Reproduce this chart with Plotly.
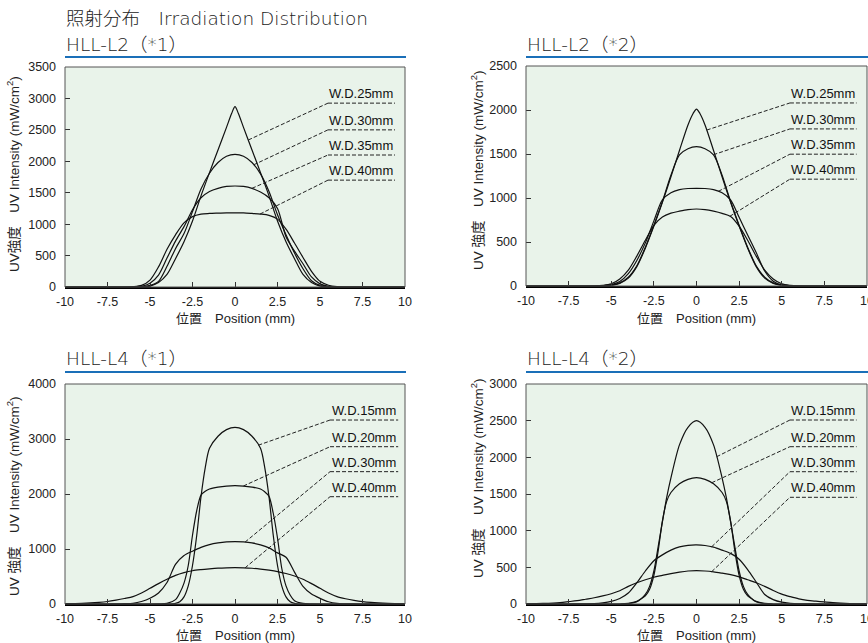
import numpy as np
import plotly.graph_objects as go

# ---------------- data ----------------
TICK_X = [-10, -7.5, -5, -2.5, 0, 2.5, 5, 7.5, 10]
TICK_X_TEXT = ["-10", "-7.5", "-5", "-2.5", "0", "2.5", "5", "7.5", "10"]

# HLL-L2 (*1)
L2A_X = [-10, -6.5, -6, -5.5, -5, -4.5, -4, -3.5, -3, -2.5, -2, -1.5, -1, -0.5, 0,
         0.5, 1, 1.5, 2, 2.5, 3, 3.5, 4, 4.5, 5, 5.5, 6, 6.5, 10]
L2A_PEAK_X = [-10, -6, -5.5, -5, -4.5, -4, -3.5, -3, -2.5, -2, -1.5, -1, -0.5, -0.2, 0,
              0.2, 0.5, 1, 1.5, 2, 2.5, 3, 3.5, 4, 4.5, 5, 5.5, 6, 10]
L2A_WD25 = [0, 0, 3, 15, 70, 200, 450, 720, 1050, 1450, 1820, 2180, 2540, 2760, 2870,
            2760, 2540, 2180, 1820, 1450, 1050, 720, 450, 200, 70, 15, 3, 0, 0]
L2A_WD30 = [0, 0, 0, 3, 25, 90, 330, 610, 850, 1200, 1560, 1810, 1980, 2080, 2110,
            2080, 1980, 1800, 1520, 1150, 830, 540, 290, 100, 25, 3, 0, 0, 0]
L2A_WD35 = [0, 0, 0, 10, 60, 190, 460, 730, 960, 1230, 1420, 1520, 1570, 1600, 1607,
            1600, 1570, 1510, 1420, 1250, 800, 570, 370, 160, 50, 10, 0, 0, 0]
L2A_WD40 = [0, 0, 5, 25, 110, 320, 600, 830, 1020, 1120, 1160, 1170, 1175, 1180, 1180,
            1178, 1170, 1160, 1140, 1080, 920, 700, 470, 250, 90, 28, 5, 0, 0]

# HLL-L2 (*2)
L2B_X = [-10, -6, -5.5, -5, -4.5, -4, -3.5, -3, -2.5, -2, -1.5, -1, -0.5, 0,
         0.5, 1, 1.5, 2, 2.5, 3, 3.5, 4, 4.5, 5, 5.5, 6, 10]
L2B_PEAK_X = [-10, -6, -5.5, -5, -4.5, -4, -3.5, -3, -2.5, -2, -1.5, -1, -0.5, -0.2, 0,
              0.2, 0.5, 1, 1.5, 2, 2.5, 3, 3.5, 4, 4.5, 5, 5.5, 6, 10]
L2B_WD25 = [0, 0, 2, 8, 30, 90, 220, 430, 680, 950, 1240, 1540, 1830, 1960, 2011,
            1960, 1830, 1540, 1240, 950, 680, 430, 220, 90, 30, 8, 2, 0, 0]
L2B_WD30 = [0, 0, 2, 10, 35, 100, 230, 440, 690, 960, 1260, 1490, 1560, 1583,
            1560, 1490, 1260, 960, 690, 440, 230, 100, 35, 10, 2, 0, 0]
L2B_WD35 = [0, 0, 3, 15, 50, 140, 290, 490, 740, 980, 1060, 1095, 1108, 1110,
            1108, 1095, 1060, 980, 780, 580, 380, 170, 55, 12, 3, 0, 0]
L2B_WD40 = [0, 2, 8, 25, 80, 180, 340, 520, 690, 785, 828, 850, 868, 875,
            868, 850, 825, 790, 680, 520, 340, 180, 80, 25, 8, 2, 0]

# HLL-L4 (*1)
L4_X = [-10, -9, -8, -7.5, -7, -6.5, -6, -5.5, -5, -4.5, -4, -3.5, -3, -2.5, -2, -1.5,
        -1, -0.5, 0, 0.5, 1, 1.5, 2, 2.5, 3, 3.5, 4, 4.5, 5, 5.5, 6, 6.5, 7, 7.5, 8, 9, 10]
L4_NARROW_X = [-10, -4.5, -4, -3.5, -3.25, -3, -2.75, -2.5, -2.25, -2, -1.75, -1.5, -1, -0.5, 0,
               0.5, 1, 1.5, 1.75, 2, 2.25, 2.5, 2.75, 3, 3.25, 3.5, 4, 4.5, 10]
L4A_WD15 = [0, 0, 2, 12, 40, 130, 330, 700, 1250, 1950, 2480, 2830, 3050, 3170, 3212,
            3170, 3050, 2830, 2480, 1950, 1250, 700, 330, 130, 40, 12, 2, 0, 0]
L4A_WD20 = [0, 2, 10, 80, 200, 380, 700, 1250, 1700, 1980, 2050, 2090, 2125, 2145, 2151,
            2145, 2125, 2090, 2040, 1960, 1650, 1200, 650, 330, 160, 60, 10, 2, 0]
L4A_WD30 = [0, 0, 0, 0, 2, 5, 12, 45, 103, 200, 390, 720, 880, 960, 1030, 1080,
            1110, 1128, 1133, 1128, 1110, 1075, 1020, 930, 850, 580, 320, 180, 103, 40,
            10, 4, 1, 0, 0, 0, 0]
L4A_WD40 = [5, 12, 30, 45, 70, 100, 135, 200, 285, 370, 450, 520, 570, 605, 625, 640,
            652, 658, 660, 658, 650, 635, 615, 590, 555, 510, 450, 370, 285, 200,
            135, 95, 65, 42, 28, 12, 4]

# HLL-L4 (*2)
L4B_WD15 = [0, 0, 5, 30, 70, 130, 240, 450, 780, 1120, 1450, 1720, 2170, 2410, 2500,
            2410, 2170, 1720, 1450, 1120, 780, 450, 240, 130, 70, 30, 5, 0, 0]
L4B_WD20 = [0, 0, 8, 35, 70, 110, 200, 390, 720, 1130, 1400, 1520, 1640, 1700, 1723,
            1700, 1640, 1520, 1400, 1130, 720, 390, 200, 110, 70, 35, 8, 0, 0]
L4B_WD30 = [0, 0, 0, 0, 1, 2, 5, 15, 35, 75, 150, 290, 450, 590, 670, 735,
            780, 800, 805, 798, 775, 735, 690, 610, 470, 300, 130, 60, 25, 10,
            3, 1, 0, 0, 0, 0, 0]
L4B_WD40 = [2, 8, 20, 32, 45, 65, 85, 110, 140, 180, 240, 290, 330, 365, 390, 415,
            435, 450, 455, 450, 438, 420, 400, 370, 330, 290, 240, 185, 135, 100,
            70, 50, 38, 28, 18, 7, 2]

PANEL_TITLES = ["HLL-L2（*1）", "HLL-L2（*2）", "HLL-L4（*1）", "HLL-L4（*2）"]
L2_LABELS = ["W.D.25mm", "W.D.30mm", "W.D.35mm", "W.D.40mm"]
L4_LABELS = ["W.D.15mm", "W.D.20mm", "W.D.30mm", "W.D.40mm"]
Y_MAX = [3500, 2500, 4000, 3000]
Y_DTICK = [500, 500, 1000, 500]

# ---------------- layout helpers ----------------
W, H = 868, 643
px = lambda v: v / W
py = lambda v: 1 - v / H

# pixel geometry of each panel: (left, right, top, bottom)
PANELS = [(65, 405, 67, 287), (526, 867, 66, 286), (65, 405, 384, 604), (526, 867, 384, 604)]
TITLE_Y = [45, 45, 358, 358]
RULE_Y = [57, 57, 372, 372]
XTITLE_Y = [318, 318, 635, 635]
YTITLE_X = [13, 477, 13, 477]
YTITLE_Y = [174, 170, 496, 478]
YTITLES = ["UV強度　UV Intensity (mW/cm<sup>2</sup>)", "UV 強度　UV Intensity (mW/cm<sup>2</sup>)",
           "UV 強度　UV Intensity (mW/cm<sup>2</sup>)", "UV 強度　UV Intensity (mW/cm<sup>2</sup>)"]

# label geometry (data coords): underline x range, underline heights, leader x on curve
LABEL_GEOM = [
    dict(x0=5.47, x1=9.41, ys=[2925, 2500, 2100, 1700], lead=[0.78, 1.1, 1.0, 1.47]),
    dict(x0=5.48, x1=9.39, ys=[2080, 1785, 1498, 1214], lead=[0.6, 0.99, 1.28, 1.96]),
    dict(x0=5.59, x1=9.6, ys=[3345, 2860, 2406, 1951], lead=[1.37, 0.49, 0.59, 0.59]),
    dict(x0=5.48, x1=9.39, ys=[2509, 2145, 1804, 1455], lead=[1.18, 0.89, 0.89, 0.89]),
]

SERIES = [
    [(L2A_PEAK_X, L2A_WD25), (L2A_X, L2A_WD30), (L2A_X, L2A_WD35), (L2A_X, L2A_WD40)],
    [(L2B_PEAK_X, L2B_WD25), (L2B_X, L2B_WD30), (L2B_X, L2B_WD35), (L2B_X, L2B_WD40)],
    [(L4_NARROW_X, L4A_WD15), (L4_NARROW_X, L4A_WD20), (L4_X, L4A_WD30), (L4_X, L4A_WD40)],
    [(L4_NARROW_X, L4B_WD15), (L4_NARROW_X, L4B_WD20), (L4_X, L4B_WD30), (L4_X, L4B_WD40)],
]
LABELS = [L2_LABELS, L2_LABELS, L4_LABELS, L4_LABELS]

LATIN = "Liberation Sans, Arial, Noto Sans CJK JP"
TITLE_FONT = "DejaVu Sans, Noto Sans CJK JP"
DASH = "4px,2px"

fig = go.Figure()
shapes = []
annotations = []

for i in range(4):
    n = "" if i == 0 else str(i + 1)
    xa, ya = "x" + n, "y" + n
    l, r, t, b = PANELS[i]
    for (xs, ys), name in zip(SERIES[i], LABELS[i]):
        fig.add_trace(go.Scatter(x=xs, y=ys, mode="lines", name=name, xaxis=xa, yaxis=ya,
                                 line=dict(color="#111111", width=1.2, shape="spline", smoothing=0.8),
                                 showlegend=False, hoverinfo="skip", cliponaxis=True))
    axkey = "xaxis" + n
    aykey = "yaxis" + n
    fig.update_layout(**{
        axkey: dict(domain=[px(l), px(r)], anchor=ya, range=[-10, 10], automargin=False,
                    tickvals=TICK_X, ticktext=TICK_X_TEXT, ticks="inside", ticklen=5,
                    tickcolor="#333", tickwidth=1, showline=True, linecolor="#000", linewidth=2,
                    showgrid=False, zeroline=False, ticklabelstandoff=2,
                    ticklabeloverflow="allow",
                    tickfont=dict(family=LATIN, size=12.5, color="#222")),
        aykey: dict(domain=[py(b), py(t)], anchor=xa, range=[0, Y_MAX[i]], dtick=Y_DTICK[i],
                    tick0=0, ticks="inside", ticklen=5, tickcolor="#333", tickwidth=1,
                    automargin=False,
                    showline=False, showgrid=False, zeroline=False, ticklabelstandoff=8,
                    tickfont=dict(family=LATIN, size=12.5, color="#222")),
    })
    # frame
    shapes.append(dict(type="rect", xref=xa + " domain", yref=ya + " domain", x0=0, x1=1, y0=0, y1=1,
                       line=dict(color="#555", width=1), layer="above"))
    # blue rule
    shapes.append(dict(type="line", xref="paper", yref="paper", x0=px(l), x1=px(min(r + 1, W)),
                       y0=py(RULE_Y[i]), y1=py(RULE_Y[i]), line=dict(color="#1a6fb8", width=2)))
    # panel title
    annotations.append(dict(text=PANEL_TITLES[i], xref="paper", yref="paper", x=px(l - 1), y=py(TITLE_Y[i]),
                            xanchor="left", yanchor="middle", showarrow=False,
                            font=dict(family=TITLE_FONT, size=18.5, color="#222", weight=300)))
    # axis titles
    annotations.append(dict(text="位置　Position (mm)", xref="paper", yref="paper",
                            x=px((l + r) / 2), y=py(XTITLE_Y[i]), xanchor="center", yanchor="middle",
                            showarrow=False, font=dict(family=LATIN, size=13, color="#222")))
    annotations.append(dict(text=YTITLES[i], xref="paper", yref="paper", x=px(YTITLE_X[i]),
                            y=py(YTITLE_Y[i]), xanchor="center", yanchor="middle", textangle=-90,
                            showarrow=False, font=dict(family=LATIN, size=13.5, color="#222")))
    # series labels with dashed leaders
    g = LABEL_GEOM[i]
    for (xs, ys), name, uy, lx in zip(SERIES[i], LABELS[i], g["ys"], g["lead"]):
        ly = float(np.interp(lx, xs, ys))
        shapes.append(dict(type="line", xref=xa, yref=ya, x0=g["x0"], x1=g["x1"], y0=uy, y1=uy,
                           line=dict(color="#222", width=1, dash=DASH)))
        shapes.append(dict(type="line", xref=xa, yref=ya, x0=lx, x1=g["x0"], y0=ly, y1=uy,
                           line=dict(color="#222", width=1, dash=DASH)))
        annotations.append(dict(text=name, xref=xa, yref=ya, x=(g["x0"] + g["x1"]) / 2, y=uy,
                                xanchor="center", yanchor="bottom", yshift=0, showarrow=False,
                                font=dict(family=LATIN, size=13, color="#111")))

annotations.append(dict(text="照射分布　Irradiation Distribution", xref="paper", yref="paper",
                        x=px(64), y=py(18), xanchor="left", yanchor="middle", showarrow=False,
                        font=dict(family=TITLE_FONT, size=18.5, color="#222", weight=300)))

fig.update_layout(width=W, height=H, margin=dict(l=0, r=0, t=0, b=0, autoexpand=False),
                  paper_bgcolor="white", plot_bgcolor="#e9f3ea",
                  shapes=shapes, annotations=annotations, showlegend=False)

fig.write_html("out.html", config={"displayModeBar": False},
               post_script="document.body.style.margin='0';document.body.style.overflow='hidden';")
